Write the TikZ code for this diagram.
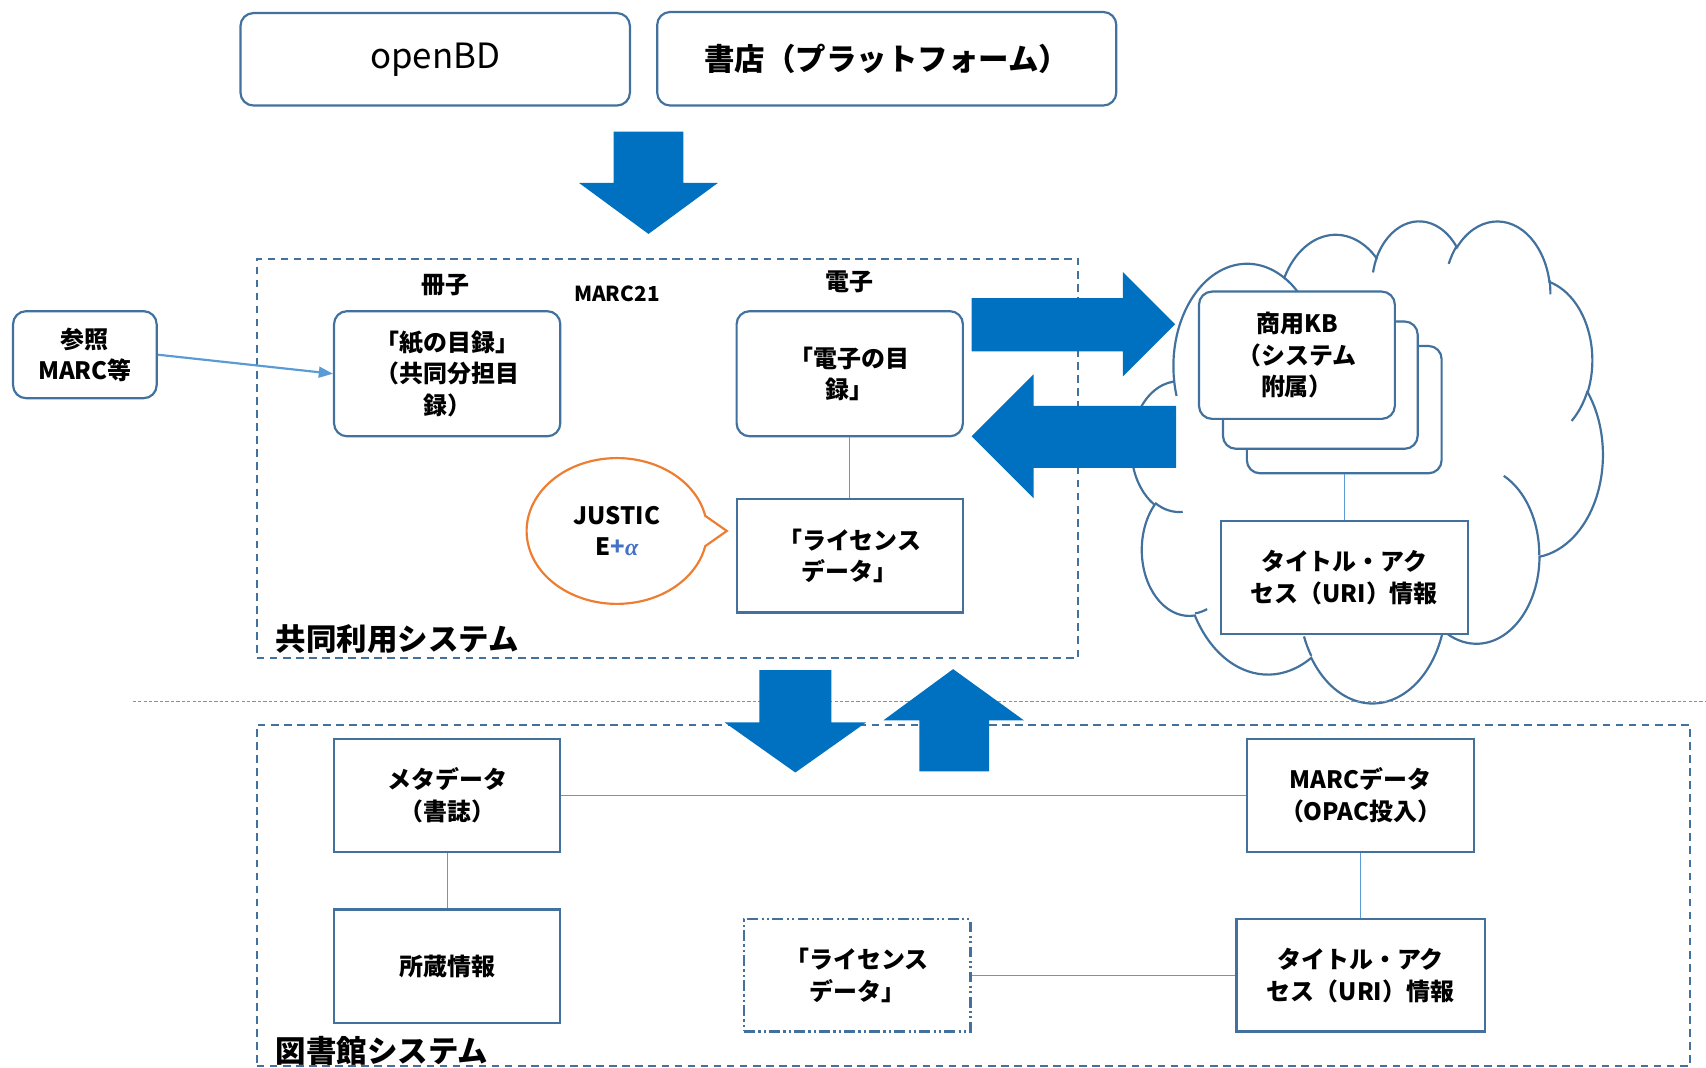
\documentclass[tikz,border=0pt]{standalone}
\usepackage{fontspec}
\setmainfont{Noto Sans CJK JP}
\newfontfamily\alphafont{Liberation Serif}
\usetikzlibrary{arrows.meta,positioning}
\definecolor{boxblue}{HTML}{41719C}
\definecolor{linkblue}{HTML}{5B9BD5}
\definecolor{arrowblue}{HTML}{0070C0}
\definecolor{bubbleorange}{HTML}{ED7D31}
\definecolor{alphablue}{HTML}{4472C4}
\newcommand{\boxtext}{\fontsize{22}{29}\selectfont\bfseries}
\newcommand{\bigtext}{\fontsize{28}{34}\selectfont\bfseries}
\tikzset{
    roundbox/.style={draw=boxblue,line width=2pt,rounded corners=12pt,fill=white,align=center,font=\boxtext,inner sep=0pt},
    sharpbox/.style={draw=boxblue,line width=2pt,fill=white,align=center,font=\boxtext,inner sep=0pt},
    system/.style={draw=boxblue,line width=2pt,dash pattern=on 7pt off 5pt,inner sep=0pt},
    link/.style={draw=linkblue,line width=1pt},
    pre/.style={-{Triangle[length=13pt,width=10pt]},draw=linkblue,line width=2pt},
    bigarrow/.style={fill=arrowblue},
    cloudedge/.style={draw=boxblue,line width=2pt}
}

\begin{document}
\begin{tikzpicture}[x=1pt,y=-1pt,
        dashdotbox/.style={draw=boxblue,line width=2pt,dash pattern=on 10pt off 3pt on 2pt off 3pt on 2pt off 3pt,fill=white,align=center,font=\boxtext,inner sep=0pt}]
    \useasboundingbox (0,0) rectangle (1568,981);

    \node[roundbox,minimum width=358pt,minimum height=85pt,font=\fontsize{32}{38}\selectfont] (openbd) at (400,54.5) {openBD};
    \node[roundbox,minimum width=422pt,minimum height=86pt,font=\bigtext] (shoten) at (815,54) {書店（プラットフォーム）};

    \fill[bigarrow] (564,121) -- (628,121) -- (628,168) -- (660,168) -- (596,215) -- (532,168) -- (564,168) -- cycle;

    \node[system,minimum width=755pt,minimum height=367pt] (kyodo) at (613.5,421.5) {};
    \node[font=\bigtext,anchor=west] (kyodolabel) at (250,587) {共同利用システム};

    \node[font=\boxtext] (sasshi) at (409,262) {冊子};
    \node[font=\fontsize{19}{22}\selectfont\bfseries] (marc21) at (567,270) {MARC21};
    \node[font=\boxtext] (denshi) at (781,259) {電子};

    \node[roundbox,minimum width=132pt,minimum height=80pt] (sansho) at (78,326) {参照\\MARC等};
    \node[roundbox,minimum width=208pt,minimum height=115pt] (kamimoku) at (411,343.5) {「紙の目録」\\（共同分担目\\録）};
    \draw[pre] (sansho.east) -- (kamimoku.west);

    \node[roundbox,minimum width=208pt,minimum height=115pt] (denshimoku) at (781,343.5) {「電子の目\\録」};
    \node[sharpbox,minimum width=208pt,minimum height=104pt,below=56pt of denshimoku] (license) {「ライセンス\\データ」}
        edge[link] (denshimoku);

    \draw[bubbleorange,line width=2pt,fill=white] (648.2,474.1) arc[start angle=-12,end angle=-348,x radius=83,y radius=67] -- (668,488) -- cycle;
    \node[font=\boxtext,align=center] (justice) at (567,488) {JUSTIC\\E\textcolor{alphablue}{+{\alphafont\itshape α}}};

    \begin{scope}[shift={(1040pt,-202pt)},x=0.010023pt,y=-0.0102546pt]
        \draw[cloudedge,fill=white] (3900,14370)
            \foreach \rx/\ry/\st/\sw in {6753/9190/-190.4875/123.7805,5333/7267/-144.1024/89.9452,4365/5945/-145.8079/99.7230,
                4857/6595/-130.9861/117.2417,5333/7273/-78.7089/109.0269,6775/9220/-46.2673/130.269,5785/7867/0.625/114.0333,
                6752/9215/22.4516/115.1726,7720/10543/66.2426/75.7110,4360/5918/-274.9421/146.7356,4345/5945/-246.8285/152.5189}{
                arc[start angle={atan2(\rx*sin(\st),\ry*cos(\st))},
                    delta angle={Mod(atan2(\rx*sin(\st+\sw),\ry*cos(\st+\sw))-atan2(\rx*sin(\st),\ry*cos(\st)),360)},
                    x radius=\rx,y radius=\ry]
            } -- cycle;
        \draw[cloudedge]
            \foreach \px/\py/\rx/\ry/\st/\sw in {4693/26177/4345/5945/86.742/26.430,6928/34899/4360/5918/73.610/11.447,
                16478/39090/6752/9215/137.624/14.081,28827/34751/6752/9215/6.453/15.998,34129/22954/5785/7867/-70.292/70.917,
                41798/15354/5333/7273/30.318/27.752,38324/5426/4857/6595/-13.744/14.859,29078/3952/4857/6595/-149.181/18.195,
                22141/4720/4365/5945/-163.494/17.686,14000/5192/6753/9190/-66.707/12.319,4127/15789/6753/9190/157.654/11.858}{
                (\px,\py) arc[start angle={atan2(\rx*sin(\st),\ry*cos(\st))},
                    delta angle={Mod(atan2(\rx*sin(\st+\sw),\ry*cos(\st+\sw))-atan2(\rx*sin(\st),\ry*cos(\st)),360)},
                    x radius=\rx,y radius=\ry]
            };
    \end{scope}

    \node[roundbox,minimum width=179pt,minimum height=117pt] (kbback) at (1235.5,376.5) {};
    \node[roundbox,minimum width=179pt,minimum height=117pt] (kbmid) at (1213.5,354) {};
    \node[roundbox,minimum width=180pt,minimum height=117pt] (kbfront) at (1192,326.5) {商用KB\\（システム\\附属）};
    \node[sharpbox,minimum width=227pt,minimum height=104pt,below=42pt of kbback] (kbtitle) {タイトル・アク\\セス（URI）情報}
        edge[link] (kbback);

    \fill[bigarrow] (893,274) -- (1032,274) -- (1032,250) -- (1080,298) -- (1032,346) -- (1032,323) -- (893,323) -- cycle;
    \fill[bigarrow] (1081,373) -- (950,373) -- (950,344) -- (893,401) -- (950,458) -- (950,430) -- (1081,430) -- cycle;

    \coordinate (sepleft) at (122,645);
    \coordinate (sepright) at (1568,645);
    \draw[linkblue,line width=1pt,dash pattern=on 3pt off 2pt] (sepleft) -- (sepright);

    \node[system,minimum width=1317pt,minimum height=314pt] (tosho) at (894.5,823) {};
    \node[font=\bigtext,anchor=west] (tosholabel) at (250,966) {図書館システム};

    \node[sharpbox,minimum width=208pt,minimum height=104pt] (meta) at (411,731) {メタデータ\\（書誌）};
    \node[sharpbox,minimum width=208pt,minimum height=104pt,below=51pt of meta] (shozo) {所蔵情報}
        edge[link] (meta);
    \node[sharpbox,minimum width=209pt,minimum height=104pt] (marcdata) at (1250.5,731) {MARCデータ\\（OPAC投入）}
        edge[link] (meta);
    \node[sharpbox,minimum width=228pt,minimum height=103pt,below=60pt of marcdata] (libtitle) {タイトル・アク\\セス（URI）情報}
        edge[link] (marcdata);
    \node[dashdotbox,minimum width=208pt,minimum height=103pt] (liclib) at (788,896.5) {「ライセンス\\データ」}
        edge[link] (libtitle);

    \fill[bigarrow] (698,616) -- (764,616) -- (764,664) -- (796,664) -- (731,710) -- (666,664) -- (698,664) -- cycle;
    \fill[bigarrow] (845,709) -- (909,709) -- (909,662) -- (941,662) -- (876,615) -- (812,662) -- (845,662) -- cycle;
\end{tikzpicture}
\end{document}
